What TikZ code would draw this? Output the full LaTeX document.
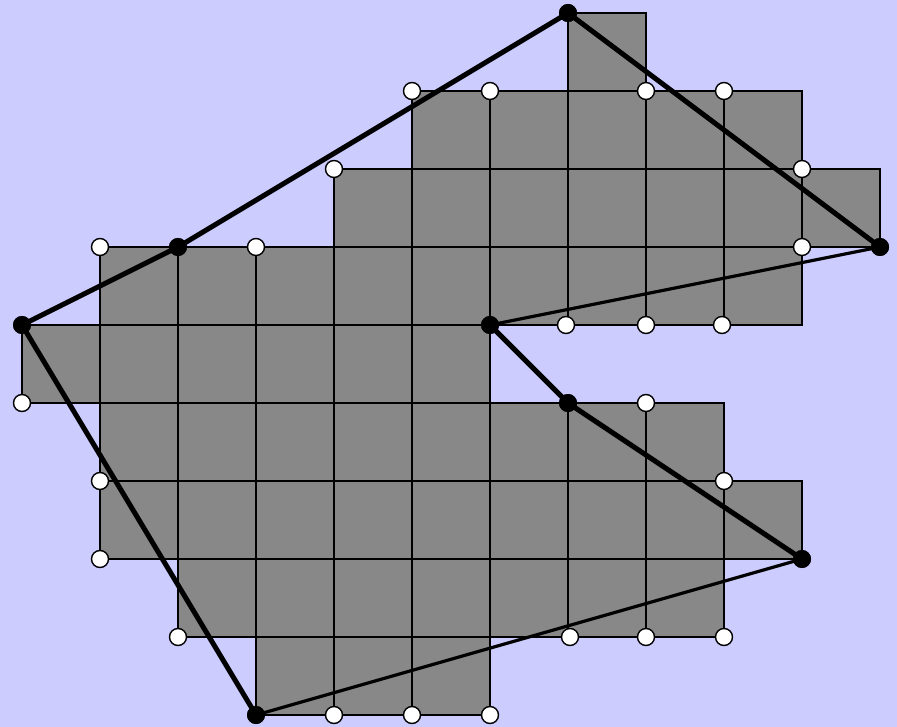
\documentclass[tikz,border=0pt]{standalone}
\definecolor{bgc}{RGB}{204,204,255}
\definecolor{cellc}{RGB}{136,136,136}
\begin{document}
\begin{tikzpicture}[x=1pt,y=-1pt,
  cell/.style={fill=cellc,draw=black,line width=1.6pt},
  wdot/.style={circle,fill=white,draw=black,line width=1.4pt,inner sep=0pt,minimum size=17pt},
  bdot/.style={circle,fill=black,inner sep=0pt,minimum size=18pt},
  thickedge/.style={line width=5pt,line cap=round},
  thinedge/.style={line width=3.2pt,line cap=round}]
\fill[bgc] (0,0) rectangle (897,727);
\useasboundingbox (0,0) rectangle (897,727);
\foreach \j/\a/\b in {0/7/7,1/5/9,2/4/10,3/1/9,4/0/5,5/1/8,6/1/9,7/2/8,8/3/5}{
  \foreach \i in {\a,...,\b}{
    \draw[cell] ({22+78*\i},{13+78*\j}) rectangle +(78,78);
  }
}
% white dots
\foreach \n/\x/\y in {w1/412/91,w2/490/91,w3/646/91,w4/724/91,w5/334/169,w6/802/169,
  w7/100/247,w8/256/247,w9/802/247,w10/566/325,w11/646/325,w12/722/325,w13/22/403,
  w14/646/403,w15/724/481,w16/100/481,w17/100/559,w18/178/637,w19/570/637,w20/646/637,
  w21/724/637,w22/334/715,w23/412/715,w24/490/715}{
  \node[wdot] (\n) at (\x,\y) {};
}
% black dots
\node[bdot] (A) at (568,13) {};
\node[bdot] (B) at (880,247) {};
\node[bdot] (C) at (490,325) {};
\node[bdot] (D) at (568,403) {};
\node[bdot] (E) at (802,559) {};
\node[bdot] (F) at (256,715) {};
\node[bdot] (G) at (22,325) {};
\node[bdot] (H) at (178,247) {};
\draw[thickedge] (A.center) -- (B.center);
\draw[thinedge] (B.center) -- (C.center);
\draw[thickedge] (C.center) -- (D.center) -- (E.center);
\draw[thinedge] (E.center) -- (F.center);
\draw[thickedge] (F.center) -- (G.center) -- (H.center) -- (A.center);
\foreach \n in {A,B,C,D,E,F,G,H}{\fill (\n) circle (9);}
\end{tikzpicture}
\end{document}
